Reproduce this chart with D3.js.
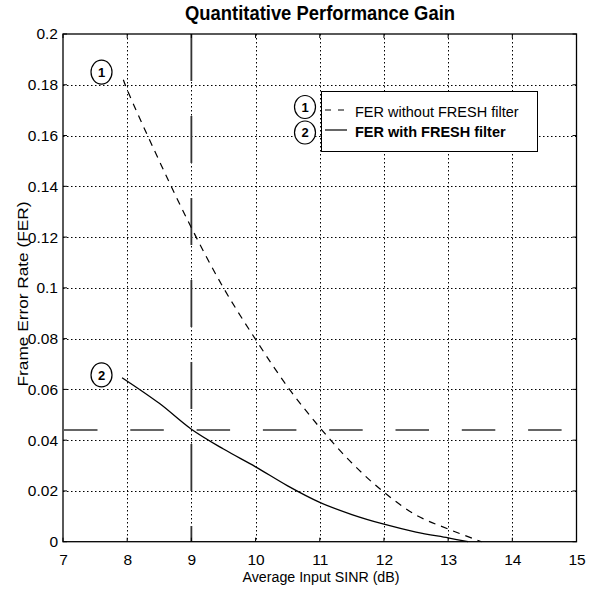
<!DOCTYPE html>
<html><head><meta charset="utf-8">
<script src="https://cdn.jsdelivr.net/npm/d3@7/dist/d3.min.js"></script>
<style>body{margin:0;background:#fff}svg{display:block}</style></head>
<body><svg id="c" width="589" height="592"></svg>
<script>
// ---- data ----
const sinrWithout = [7.94, 8.0, 8.5, 9.0, 9.5, 10.0, 10.5, 11.0, 11.5, 12.0, 12.5, 13.0, 13.52];
const ferWithout  = [0.182, 0.178, 0.150, 0.1237, 0.100, 0.0797, 0.061, 0.045, 0.031, 0.0195, 0.0105, 0.0050, 0.0];
const sinrWith    = [7.92, 8.5, 9.0, 9.5, 10.0, 10.5, 11.0, 11.5, 12.0, 12.5, 13.0, 13.31];
const ferWith     = [0.0646, 0.0545, 0.0443, 0.0365, 0.0295, 0.0220, 0.0155, 0.0107, 0.0069, 0.0038, 0.0015, 0.0];
const xTickValues = [7, 8, 9, 10, 11, 12, 13, 14, 15];
const yTickValues = [0, 0.02, 0.04, 0.06, 0.08, 0.1, 0.12, 0.14, 0.16, 0.18, 0.2];
const yTickLabels = ["0", "0.02", "0.04", "0.06", "0.08", "0.1", "0.12", "0.14", "0.16", "0.18", "0.2"];
const refSinr = 9;
const refFer = 0.044;
const seriesNames = ["FER without FRESH filter", "FER with FRESH filter"];
const markerLabels = ["1", "2"];
const markerSinr = [7.6, 7.6];
const markerFer = [0.185, 0.0657];
const titleText = "Quantitative Performance Gain";
const xLabelText = "Average Input SINR (dB)";
const yLabelText = "Frame Error Rate (FER)";

// ---- layout ----
const W = 589, H = 592;
const m = {l: 63, r: 12.5, t: 34, b: 50.3};
const iw = W - m.l - m.r, ih = H - m.t - m.b;
const FONT = "'Liberation Sans', Arial, Helvetica, sans-serif";

const svg = d3.select("#c");
const x = d3.scaleLinear().domain([7, 15]).range([m.l, m.l + iw]);
const y = d3.scaleLinear().domain([0, 0.2]).range([m.t + ih, m.t]);

const g = svg.append("g");

// grid
const grid = g.append("g").attr("stroke", "#000").attr("stroke-width", 1).attr("stroke-dasharray", "1.5,2.5");
grid.selectAll(".vx").data(xTickValues.slice(1, -1)).enter().append("line")
  .attr("x1", d => Math.round(x(d)) + 0.5).attr("x2", d => Math.round(x(d)) + 0.5)
  .attr("y1", m.t).attr("y2", m.t + ih);
grid.selectAll(".hy").data(yTickValues.slice(1, -1)).enter().append("line")
  .attr("y1", d => Math.round(y(d)) + 0.5).attr("y2", d => Math.round(y(d)) + 0.5)
  .attr("x1", m.l).attr("x2", m.l + iw);

// reference lines
g.append("line")
  .attr("x1", x(refSinr)).attr("x2", x(refSinr))
  .attr("y1", m.t).attr("y2", m.t + ih)
  .attr("stroke", "#333").attr("stroke-width", 1.8).attr("stroke-dasharray", "47,35");
g.append("line")
  .attr("x1", m.l + 1).attr("x2", m.l + iw)
  .attr("y1", y(refFer)).attr("y2", y(refFer))
  .attr("stroke", "#333").attr("stroke-width", 1.6).attr("stroke-dasharray", "33.5,32.8");

// curves
const line = d3.line().x(d => x(d[0])).y(d => y(d[1])).curve(d3.curveCatmullRom.alpha(0.5));
g.append("path").datum(sinrWithout.map((s, i) => [s, ferWithout[i]]))
  .attr("d", line).attr("fill", "none").attr("stroke", "#000")
  .attr("stroke-width", 1.2).attr("stroke-dasharray", "7,6");
g.append("path").datum(sinrWith.map((s, i) => [s, ferWith[i]]))
  .attr("d", line).attr("fill", "none").attr("stroke", "#000")
  .attr("stroke-width", 1.3);

// axes
const xAxis = d3.axisBottom(x).tickValues(xTickValues).tickSize(0).tickPadding(9);
const yAxis = d3.axisLeft(y).tickValues(yTickValues).tickFormat((d, i) => yTickLabels[i]).tickSize(0).tickPadding(5);
const xa = g.append("g").attr("transform", `translate(0,${m.t + ih})`).call(xAxis);
const ya = g.append("g").attr("transform", `translate(${m.l},0)`).call(yAxis);
[xa, ya].forEach(a => {
  a.select(".domain").remove();
  a.selectAll("text").attr("font-family", FONT).attr("font-size", 15.5).attr("fill", "#000");
});
xa.selectAll("text").attr("dy", "0.9em");

// inward ticks on all sides
const tk = g.append("g").attr("stroke", "#000").attr("stroke-width", 1);
tk.selectAll(".tb").data(xTickValues).enter().append("line")
  .attr("x1", d => x(d)).attr("x2", d => x(d)).attr("y1", m.t + ih).attr("y2", m.t + ih - 4);
tk.selectAll(".tt").data(xTickValues).enter().append("line")
  .attr("x1", d => x(d)).attr("x2", d => x(d)).attr("y1", m.t).attr("y2", m.t + 4);
tk.selectAll(".tl").data(yTickValues).enter().append("line")
  .attr("y1", d => y(d)).attr("y2", d => y(d)).attr("x1", m.l).attr("x2", m.l + 4);
tk.selectAll(".tr").data(yTickValues).enter().append("line")
  .attr("y1", d => y(d)).attr("y2", d => y(d)).attr("x1", m.l + iw).attr("x2", m.l + iw - 4);

// frame
g.append("rect").attr("x", m.l).attr("y", m.t).attr("width", iw).attr("height", ih)
  .attr("fill", "none").attr("stroke", "#000").attr("stroke-width", 1.3);

// markers on curves
const mk = g.selectAll(".mk").data(markerLabels).enter().append("g")
  .attr("transform", (d, i) => `translate(${x(markerSinr[i])},${y(markerFer[i])})`);
mk.append("ellipse").attr("rx", 10.5).attr("ry", 12).attr("fill", "#fff").attr("stroke", "#000").attr("stroke-width", 1.2);
mk.append("text").text(d => d).attr("text-anchor", "middle").attr("dy", "0.36em")
  .attr("font-family", FONT).attr("font-weight", "bold").attr("font-size", 13);

// legend
const lg = g.append("g");
lg.append("rect").attr("x", 321.5).attr("y", 91.5).attr("width", 216).attr("height", 60)
  .attr("fill", "#fff").attr("stroke", "#000").attr("stroke-width", 1);
const rowsY = [110, 130];
seriesNames.forEach((name, i) => {
  lg.append("line").attr("x1", 325).attr("x2", 347).attr("y1", rowsY[i]).attr("y2", rowsY[i])
    .attr("stroke", "#000").attr("stroke-width", 1.2)
    .attr("stroke-dasharray", i === 0 ? "6,7" : null);
  lg.append("text").attr("x", 355).attr("y", rowsY[i] + 6.5).text(name)
    .attr("font-family", FONT).attr("font-size", 14.5)
    .attr("font-weight", i === 1 ? "bold" : "normal");
  const c = lg.append("g").attr("transform", `translate(305,${[107, 132.5][i]})`);
  c.append("ellipse").attr("rx", 10.5).attr("ry", 11.5).attr("fill", "#fff").attr("stroke", "#000").attr("stroke-width", 1.2);
  c.append("text").text(markerLabels[i]).attr("text-anchor", "middle").attr("dy", "0.36em")
    .attr("font-family", FONT).attr("font-weight", "bold").attr("font-size", 13);
});

// titles
svg.append("text").attr("x", 320).attr("y", 20).attr("text-anchor", "middle")
  .attr("font-family", FONT).attr("font-weight", "bold").attr("font-size", 19.5)
  .attr("textLength", 270).attr("lengthAdjust", "spacingAndGlyphs").text(titleText);
svg.append("text").attr("x", 321).attr("y", 582).attr("text-anchor", "middle")
  .attr("font-family", FONT).attr("font-size", 15.5)
  .attr("textLength", 157).attr("lengthAdjust", "spacingAndGlyphs").text(xLabelText);
svg.append("text").attr("transform", "translate(28,294) rotate(-90)").attr("text-anchor", "middle")
  .attr("font-family", FONT).attr("font-size", 15.5)
  .attr("textLength", 185).attr("lengthAdjust", "spacingAndGlyphs").text(yLabelText);
</script></body></html>
